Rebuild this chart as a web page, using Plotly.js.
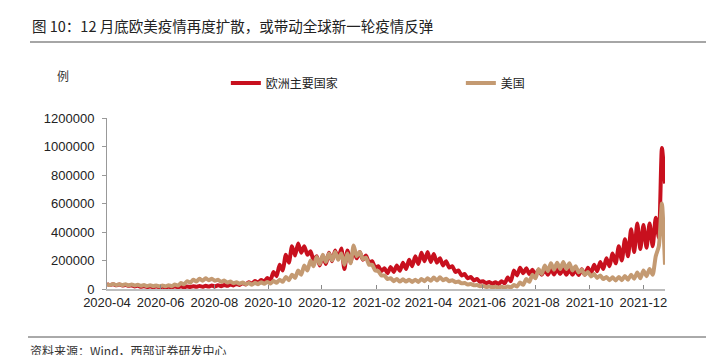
<!DOCTYPE html>
<html>
<head>
<meta charset="utf-8">
<script src="https://cdn.plot.ly/plotly-3.0.1.min.js"></script>
<style>html,body{margin:0;padding:0;background:#fff;}#chart{width:717px;height:355px;}</style>
</head>
<body>
<div id="chart"></div>
<script>
// Series names
const seriesNames = ["欧洲主要国家", "美国"];
// Half-weekly readings (alternating weekly high / low), starting 2020-04-01, every 3.5 days
const startDate = "2020-04-01";
const stepDays = 3.5;
const europe = [
  35000,28000, 33000,26000, 32000,24000, 28000,22000, 25000,18000, 22000,16000, 20000,14000, 18000,13000,
  17000,12000, 16000,12000, 16000,12000, 17000,13000, 18000,13000, 18000,14000, 20000,15000, 21000,16000,
  22000,17000, 24000,18000, 26000,20000, 28000,22000, 32000,25000, 36000,28000, 42000,32000, 48000,38000,
  56000,44000, 64000,50000, 78000,60000, 120000,90000, 170000,130000, 240000,185000, 300000,235000, 320000,255000,
  300000,240000, 265000,205000, 230000,165000, 235000,175000, 255000,195000, 270000,210000, 285000,140000, 270000,190000,
  275000,215000, 260000,205000, 235000,185000, 195000,150000, 160000,125000, 145000,110000, 155000,120000, 165000,128000,
  185000,140000, 205000,160000, 230000,175000, 255000,195000, 260000,190000, 245000,185000, 215000,165000, 195000,150000,
  160000,120000, 130000,95000, 105000,75000, 85000,60000, 70000,50000, 55000,40000, 50000,36000, 48000,35000,
  55000,40000, 80000,55000, 130000,95000, 150000,110000, 145000,105000, 135000,100000, 135000,100000, 135000,100000,
  140000,102000, 140000,105000, 138000,100000, 135000,100000, 135000,98000, 138000,100000, 150000,110000, 170000,125000,
  190000,140000, 215000,160000, 250000,180000, 300000,200000, 350000,230000, 420000,260000, 460000,280000, 450000,290000,
  460000,300000, 500000,360000, 990000,740000
];
const usa = [
  35000,28000, 35000,28000, 34000,27000, 33000,26000, 32000,25000, 30000,22000, 28000,21000, 26000,20000,
  25000,19000, 25000,19000, 27000,20000, 32000,24000, 42000,33000, 55000,44000, 65000,52000, 72000,58000,
  75000,62000, 72000,58000, 65000,50000, 60000,46000, 52000,40000, 48000,37000, 45000,33000, 42000,30000,
  44000,34000, 48000,37000, 50000,38000, 57000,43000, 65000,50000, 85000,62000, 100000,78000, 130000,100000,
  165000,130000, 200000,160000, 225000,175000, 240000,190000, 250000,200000, 260000,205000, 250000,170000, 250000,180000,
  305000,230000, 260000,210000, 220000,170000, 170000,130000, 125000,95000, 95000,70000, 75000,55000, 70000,52000,
  68000,52000, 65000,50000, 65000,50000, 70000,55000, 75000,58000, 80000,60000, 82000,62000, 72000,55000,
  62000,48000, 52000,40000, 42000,32000, 35000,26000, 28000,20000, 22000,14000, 18000,12000, 15000,10000,
  15000,10000, 18000,11000, 28000,18000, 45000,30000, 70000,50000, 100000,75000, 140000,105000, 165000,125000,
  180000,135000, 185000,140000, 190000,140000, 180000,130000, 160000,118000, 135000,100000, 120000,88000, 105000,78000,
  95000,70000, 85000,62000, 82000,60000, 85000,62000, 92000,65000, 100000,72000, 115000,75000, 130000,90000,
  140000,100000, 230000,300000, 600000,170000
];
const yTicks = [0, 200000, 400000, 600000, 800000, 1000000, 1200000];

function isoAt(i) {
  const ms = Date.parse(startDate + "T00:00:00Z") + i * stepDays * 86400000;
  const d = new Date(ms);
  const p = n => String(n).padStart(2, "0");
  return d.getUTCFullYear() + "-" + p(d.getUTCMonth() + 1) + "-" + p(d.getUTCDate()) + " " + p(d.getUTCHours()) + ":00";
}
const dates = europe.map((_, i) => isoAt(i));

const traces = [
  {x: dates, y: europe, name: seriesNames[0], type: "scatter", mode: "lines",
   line: {color: "#C8101E", width: 4, shape: "spline", smoothing: 0.6}},
  {x: dates, y: usa, name: seriesNames[1], type: "scatter", mode: "lines",
   line: {color: "#C49A72", width: 4, shape: "spline", smoothing: 0.6}}
];

const cjk = "'Noto Sans CJK SC', 'Noto Sans', sans-serif";
const latin = "'Liberation Sans', Arial, sans-serif";

const layout = {
  width: 717, height: 355,
  margin: {l: 107, r: 52, t: 118, b: 66, pad: 0},
  paper_bgcolor: "#fff", plot_bgcolor: "#fff",
  showlegend: true,
  title: {text: "图 10：12 月底欧美疫情再度扩散，或带动全球新一轮疫情反弹",
          x: 32/717, xanchor: "left", xref: "container",
          y: 1 - 27/355, yanchor: "middle", yref: "container",
          font: {family: cjk, size: 14.5, color: "#222"}},
  legend: {orientation: "h", x: 0.213, xanchor: "left", y: 1.205, yanchor: "middle",
           font: {family: cjk, size: 12, color: "#222"}, entrywidth: 190, entrywidthmode: "pixels",
           bgcolor: "rgba(0,0,0,0)", traceorder: "normal"},
  xaxis: {type: "date", range: [dates[0], dates[dates.length - 1]],
          tick0: "2020-04-01", dtick: "M2", tickformat: "%Y-%m",
          showgrid: false, zeroline: false, showline: true, linecolor: "#BDBDBD", linewidth: 2,
          ticks: "inside", ticklen: 4, tickcolor: "#888", tickwidth: 1,
          tickfont: {family: latin, size: 13, color: "#222"}, fixedrange: true},
  yaxis: {range: [0, 1200000], tickvals: yTicks, ticktext: yTicks.map(v => String(v)),
          showgrid: false, zeroline: false, showline: true, linecolor: "#999", linewidth: 1,
          ticks: "outside", ticklen: 4, tickcolor: "#999", ticklabelstandoff: 5,
          tickfont: {family: latin, size: 13, color: "#222"}, fixedrange: true},
  annotations: [
    {text: "例", xref: "paper", yref: "paper", x: (63-107)/558, y: (289-75)/171,
     xanchor: "center", yanchor: "middle", showarrow: false, font: {family: cjk, size: 12, color: "#333"}},
    {text: "资料来源：Wind，西部证券研发中心", xref: "paper", yref: "paper", x: (28-107)/558, y: (289-350)/171,
     xanchor: "left", yanchor: "middle", showarrow: false, font: {family: cjk, size: 12, color: "#333"}}
  ],
  shapes: [
    {type: "line", xref: "paper", yref: "paper", x0: (30-107)/558, x1: (706-107)/558,
     y0: (289-42)/171, y1: (289-42)/171, line: {color: "#888", width: 1.5}},
    {type: "line", xref: "paper", yref: "paper", x0: (28-107)/558, x1: (706-107)/558,
     y0: (289-337)/171, y1: (289-337)/171, line: {color: "#555", width: 1}}
  ]
};

Plotly.newPlot("chart", traces, layout, {displayModeBar: false, staticPlot: true});
</script>
</body>
</html>
